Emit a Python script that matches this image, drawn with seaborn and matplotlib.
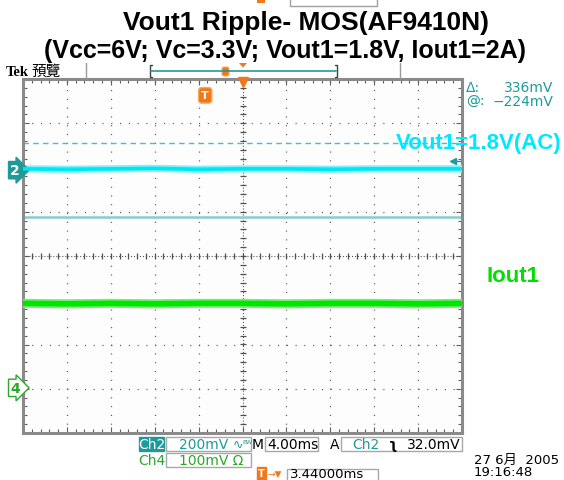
import numpy as np
import pandas as pd
import matplotlib
matplotlib.use("Agg")
import matplotlib.pyplot as plt
from matplotlib.patches import Rectangle, FancyBboxPatch, Polygon
from matplotlib.lines import Line2D
from matplotlib.ticker import MultipleLocator
import matplotlib.transforms as mtrans
import seaborn as sns

# ---------------- data (graticule divisions, 4.00 ms/div, 10 x 8 div) ----------------
time_ms = [0, 4, 8, 12, 16, 20, 24, 28, 32, 36, 40]
ch2_div = [1.97, 1.96, 1.97, 1.98, 1.96, 1.97, 1.97, 1.96, 1.97, 1.97, 1.97]
ch4_div = [-1.07, -1.08, -1.07, -1.08, -1.07, -1.07, -1.08, -1.07, -1.07, -1.08, -1.07]
ref_dashed_div = 2.55
ref_line_div = 0.88
ch2_marker_div = 1.94
ch4_marker_div = -2.98
trig_level_div = 2.15
trig_pos_ms = 16.6
title_lines = ["Vout1 Ripple- MOS(AF9410N)", "(Vcc=6V; Vc=3.3V; Vout1=1.8V, Iout1=2A)"]
trace_labels = ["Vout1=1.8V(AC)", "Iout1"]
meas_labels = ["\u0394:", "@:"]
meas_values = ["336mV", "\u2212224mV"]
ch2_scale = "200mV"
ch4_scale = "100mV"
timebase = "4.00ms"
trig_level = "32.0mV"
trig_delay = "3.44000ms"
date_str = "27 6\u6708  2005"
time_str = "19:16:48"

# ---------------- style ----------------
sns.set_theme(style="white")
plt.rcParams["font.family"] = ["DejaVu Sans", "Noto Sans CJK TC"]
plt.rcParams["lines.scale_dashes"] = False

W, H = 564, 481
fig = plt.figure(figsize=(W / 100, H / 100), dpi=100)
fig.patch.set_facecolor("white")

def fx(x):
    return x / W

def fy(y):
    return 1 - y / H

TEAL = "#1f9a9a"
CYAN = "#00e6f5"
GREEN = "#00e600"
DGREEN = "#2aa82a"
ORANGE = "#f07818"
GRID = "#505050"

ax = fig.add_axes([fx(23), fy(434), (462 - 23) / W, (434 - 80) / H])
ax.set_facecolor("#fdfdfd")
ax.set_xlim(0, 40)
ax.set_ylim(-4, 4)

# graticule: dotted grid lines
dot = (0, (0.75, 5.57))
for gx in np.arange(4, 40, 4):
    if gx == 20:
        continue
    ax.axvline(gx, color=GRID, lw=0.9, ls=dot, zorder=1)
for gy in range(-3, 4):
    if gy == 0:
        continue
    ax.axhline(gy, color=GRID, lw=0.9, ls=dot, zorder=1)
# center crosshair with minor ticks
ax.axvline(20, color=GRID, lw=0.8, ls=(0, (0.75, 1.4)), zorder=1)
ax.axhline(0, color=GRID, lw=0.8, ls=(0, (0.75, 1.4)), zorder=1)
minor_y = np.arange(-4, 4.01, 0.2)
minor_x = np.arange(0, 40.01, 0.8)
ax.plot(np.full_like(minor_y, 20), minor_y, ls="none", marker="_", ms=4, mew=0.9, color=GRID, zorder=1)
ax.plot(minor_x, np.zeros_like(minor_x), ls="none", marker="|", ms=4, mew=0.9, color=GRID, zorder=1)

# frame ticks
ax.xaxis.set_major_locator(MultipleLocator(4))
ax.xaxis.set_minor_locator(MultipleLocator(0.8))
ax.yaxis.set_major_locator(MultipleLocator(1))
ax.yaxis.set_minor_locator(MultipleLocator(0.2))
ax.tick_params(which="both", direction="in", top=True, right=True, bottom=True, left=True,
               length=3, width=0.8, color="#606060",
               labelbottom=False, labelleft=False, labeltop=False, labelright=False)
ax.tick_params(which="major", length=4)
for s in ax.spines.values():
    s.set_color("#8a8a8a")
    s.set_linewidth(2.2)

# reference lines
ax.axhline(ref_dashed_div, color="#3cc4cc", lw=1.0, ls=(0, (4, 3)), zorder=2)
ax.axhline(ref_line_div, color="#88cccc", lw=1.8, zorder=2)

# traces
df = pd.DataFrame({"t": time_ms * 2,
                   "v": ch2_div + ch4_div,
                   "ch": ["Ch2"] * len(time_ms) + ["Ch4"] * len(time_ms)})
sns.lineplot(data=df[df.ch == "Ch2"], x="t", y="v", color="#7ff2fb", lw=5.2, ax=ax, zorder=3, legend=False)
sns.lineplot(data=df[df.ch == "Ch2"], x="t", y="v", color=CYAN, lw=2.6, ax=ax, zorder=4, legend=False)
sns.lineplot(data=df[df.ch == "Ch4"], x="t", y="v", color="#70f070", lw=6.5, ax=ax, zorder=3, legend=False)
sns.lineplot(data=df[df.ch == "Ch4"], x="t", y="v", color=GREEN, lw=4.0, ax=ax, zorder=4, legend=False)
ax.set_xlabel("")
ax.set_ylabel("")

# markers on the graticule
ax.plot([20], [3.93], marker="v", ms=7, color=ORANGE, clip_on=False, zorder=6, ls="none")
ax.text(trig_pos_ms, 3.63, "T", color="white", fontsize=8, fontweight="bold", ha="center", va="center",
        zorder=7, bbox=dict(boxstyle="round,pad=0.25,rounding_size=0.3", fc=ORANGE, ec="#f8a860", lw=1))
ax.plot([39.2], [trig_level_div], marker="<", ms=5, color=TEAL, ls="none", zorder=7)
ax.plot([39.2, 40], [trig_level_div, trig_level_div], color=TEAL, lw=1, zorder=7)

blend = mtrans.blended_transform_factory(ax.transAxes, ax.transData)
ax.text(-0.007, ch2_marker_div, "2", transform=blend, color="white", fontsize=10, fontweight="bold",
        ha="right", va="center", clip_on=False,
        bbox=dict(boxstyle="rarrow,pad=0.12", fc=TEAL, ec=TEAL, lw=1))
ax.text(-0.007, ch4_marker_div, "4", transform=blend, color=DGREEN, fontsize=10, fontweight="bold",
        ha="right", va="center", clip_on=False,
        bbox=dict(boxstyle="rarrow,pad=0.12", fc="white", ec=DGREEN, lw=1))

# ---------------- titles ----------------
fig.text(fx(306), fy(23), title_lines[0], ha="center", va="center", fontsize=19, fontweight="bold",
         family="Liberation Sans", color="black")
fig.text(fx(285), fy(51), title_lines[1], ha="center", va="center", fontsize=18, fontweight="bold",
         family="Liberation Sans", color="black")

# ---------------- top status bar ----------------
fig.text(fx(6), fy(72), "Tek", ha="left", va="center", fontsize=10.5, fontweight="bold",
         family="Liberation Serif", color="black")
fig.text(fx(31), fy(72), "\u9810\u89bd", ha="left", va="center", fontsize=10.5,
         family=["Noto Sans CJK TC"], color="black")

def fline(xs, ys, **kw):
    fig.add_artist(Line2D([fx(x) for x in xs], [fy(y) for y in ys], transform=fig.transFigure, **kw))

fline([86, 86], [64, 79], color="#9a9a9a", lw=1)
fline([400, 400], [64, 79], color="#9a9a9a", lw=1)
fline([152, 150, 150, 152], [66, 66, 78, 78], color="#404040", lw=1)
fline([335, 337, 337, 335], [66, 66, 78, 78], color="#404040", lw=1)
fline([151, 336], [72, 72], color=TEAL, lw=1.2)
fig.add_artist(FancyBboxPatch((fx(222), fy(77)), 7 / W, 9 / H, boxstyle="round,pad=0,rounding_size=0.004",
                              transform=fig.transFigure, fc=ORANGE, ec="#f8a860", lw=0.8))
fig.add_artist(Polygon([(fx(239), fy(64)), (fx(247), fy(64)), (fx(243), fy(68.5))],
                       closed=True, transform=fig.transFigure, fc=ORANGE, ec="none"))
# cut-off readouts at the very top
fig.add_artist(Rectangle((fx(257), fy(4)), 8 / W, 4 / H, transform=fig.transFigure, fc=ORANGE, ec="none"))
fline([290, 290, 377, 377], [0, 7, 7, 0], color="#a0a0a0", lw=1)

# ---------------- right side readouts ----------------
fig.text(fx(466), fy(88), meas_labels[0], ha="left", va="center", fontsize=10, color=TEAL)
fig.text(fx(553), fy(88), meas_values[0], ha="right", va="center", fontsize=10, color=TEAL)
fig.text(fx(466), fy(102), meas_labels[1], ha="left", va="center", fontsize=10, color=TEAL)
fig.text(fx(553), fy(102), meas_values[1], ha="right", va="center", fontsize=10, color=TEAL)
fig.text(fx(396), fy(143), trace_labels[0], ha="left", va="center", fontsize=16, fontweight="bold",
         family="Liberation Sans", color="#00e8ff")
fig.text(fx(486), fy(277), trace_labels[1], ha="left", va="center", fontsize=16, fontweight="bold",
         family="Liberation Sans", color="#00e000")

# ---------------- bottom readouts ----------------
def fbox(x0, y0, x1, y1, fc="none", ec="#a8a8a8"):
    fig.add_artist(Rectangle((fx(x0), fy(y1)), (x1 - x0) / W, (y1 - y0) / H,
                             transform=fig.transFigure, fc=fc, ec=ec, lw=1))

r1 = 445
fbox(139, 438, 164, 452, fc=TEAL, ec=TEAL)
fig.text(fx(151.5), fy(r1), "Ch2", ha="center", va="center", fontsize=10, color="white")
fbox(166, 438, 251, 452)
fig.text(fx(179), fy(r1), ch2_scale, ha="left", va="center", fontsize=10, color=TEAL)
fig.text(fx(233), fy(r1), "\u223f", ha="left", va="center", fontsize=9, color=TEAL)
fig.text(fx(242), fy(r1 - 2), "BW", ha="left", va="center", fontsize=4.5, color=TEAL)
fig.text(fx(252), fy(r1), "M", ha="left", va="center", fontsize=10, color="black")
fbox(265, 438, 318, 452)
fig.text(fx(267), fy(r1), timebase, ha="left", va="center", fontsize=10, color="black")
fig.text(fx(330), fy(r1), "A", ha="left", va="center", fontsize=10, color="black")
fbox(341, 438, 462, 452)
fig.text(fx(352), fy(r1), "Ch2", ha="left", va="center", fontsize=10, color=TEAL)
fig.text(fx(389), fy(r1), "\u0285", ha="left", va="center", fontsize=10, fontweight="bold", color="black")
fig.text(fx(461), fy(r1), trig_level, ha="right", va="center", fontsize=10, color="black")

r2 = 461
fig.text(fx(151.5), fy(r2), "Ch4", ha="center", va="center", fontsize=10, color=DGREEN)
fbox(166, 454, 251, 468)
fig.text(fx(179), fy(r2), ch4_scale + " \u03a9", ha="left", va="center", fontsize=10, color=DGREEN)

r3 = 474.5
fig.text(fx(258), fy(r3), "T", ha="left", va="center", fontsize=7, fontweight="bold", color="white",
         bbox=dict(boxstyle="square,pad=0.15", fc=ORANGE, ec=ORANGE))
fig.text(fx(268), fy(r3), "\u2192\u25bc", ha="left", va="center", fontsize=6.5, color=ORANGE)
fbox(287, 470, 378, 484)
fig.text(fx(290), fy(r3), trig_delay, ha="left", va="center", fontsize=9.5, color="black")

fig.text(fx(474), fy(460), date_str, ha="left", va="center", fontsize=9.5,
         family=["DejaVu Sans", "Noto Sans CJK TC"], color="black")
fig.text(fx(474), fy(473), time_str, ha="left", va="center", fontsize=9.5, color="black")

fig.savefig("out.png", dpi=100, facecolor="white")
